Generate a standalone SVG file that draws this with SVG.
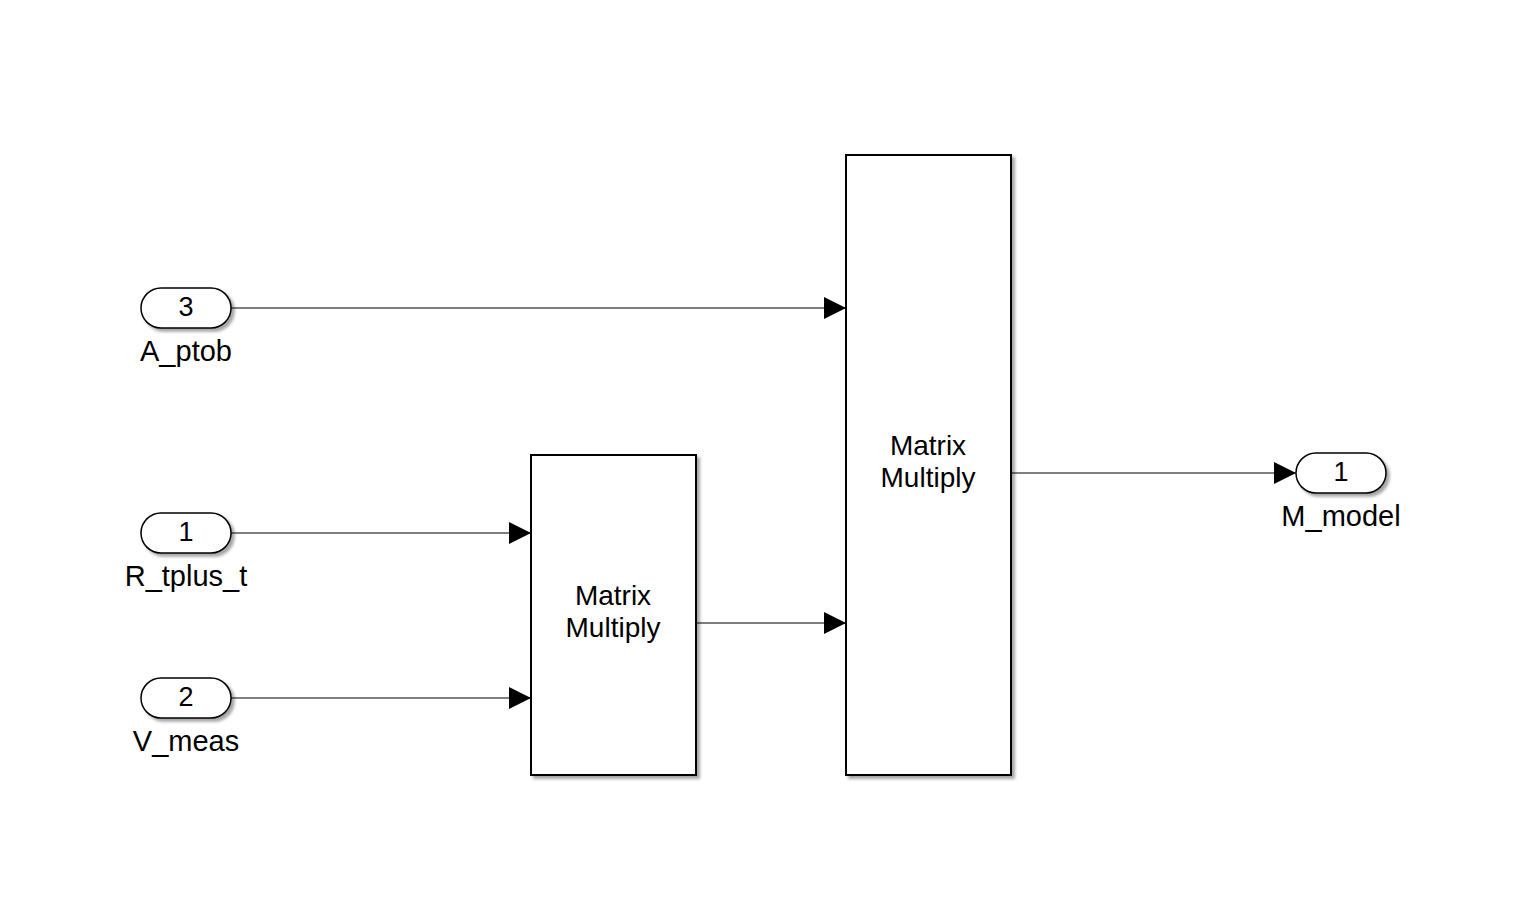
<svg xmlns="http://www.w3.org/2000/svg" width="1516" height="914" viewBox="0 0 1516 914">
<style>
.blk{fill:#fff;stroke:#000;stroke-width:2;filter:url(#sh)}
.port{fill:#fff;stroke:#000;stroke-width:1.5;filter:url(#sh)}
.t{font-family:"Liberation Sans",Arial,sans-serif;font-size:29px;fill:#000;text-anchor:middle}
.b{font-family:"Liberation Sans",Arial,sans-serif;font-size:28px;fill:#000;text-anchor:middle}
.n{font-family:"Liberation Sans",Arial,sans-serif;font-size:27px;fill:#000;text-anchor:middle}
.ln{fill:none;stroke:#000;stroke-width:1}
</style>
<defs>
<filter id="sh" x="-10%" y="-10%" width="130%" height="130%">
<feDropShadow dx="3" dy="3" stdDeviation="1.5" flood-color="#000" flood-opacity="0.35"/>
</filter>
<marker id="ar" viewBox="0 0 22 22" refX="22" refY="11" markerWidth="22" markerHeight="22" markerUnits="userSpaceOnUse" orient="auto">
<path d="M0,0 L22,11 L0,22 Z" fill="#000"/>
</marker>
</defs>
<rect width="1516" height="914" fill="#fff"/>
<g id="connectors">
<line class="ln" x1="231" y1="308" x2="846" y2="308" marker-end="url(#ar)"/>
<line class="ln" x1="231" y1="533" x2="531" y2="533" marker-end="url(#ar)"/>
<line class="ln" x1="231" y1="698" x2="531" y2="698" marker-end="url(#ar)"/>
<line class="ln" x1="696" y1="623" x2="846" y2="623" marker-end="url(#ar)"/>
<line class="ln" x1="1011" y1="473" x2="1296" y2="473" marker-end="url(#ar)"/>
</g>
<g id="in3">
<rect class="port" x="141" y="288" width="90" height="40" rx="20" ry="20"/>
<text class="n" x="186" y="316">3</text>
<text class="t" x="186" y="361">A_ptob</text>
</g>
<g id="in1">
<rect class="port" x="141" y="513" width="90" height="40" rx="20" ry="20"/>
<text class="n" x="186" y="541">1</text>
<text class="t" x="186" y="586">R_tplus_t</text>
</g>
<g id="in2">
<rect class="port" x="141" y="678" width="90" height="40" rx="20" ry="20"/>
<text class="n" x="186" y="706">2</text>
<text class="t" x="186" y="751">V_meas</text>
</g>
<g id="mm1">
<rect class="blk" x="531" y="455" width="165" height="320"/>
<text class="b" x="613" y="605">Matrix</text>
<text class="b" x="613" y="637">Multiply</text>
</g>
<g id="mm2">
<rect class="blk" x="846" y="155" width="165" height="620"/>
<text class="b" x="928" y="455">Matrix</text>
<text class="b" x="928" y="487">Multiply</text>
</g>
<g id="out1">
<rect class="port" x="1296" y="453" width="90" height="40" rx="20" ry="20"/>
<text class="n" x="1341" y="481">1</text>
<text class="t" x="1341" y="526">M_model</text>
</g>
</svg>
